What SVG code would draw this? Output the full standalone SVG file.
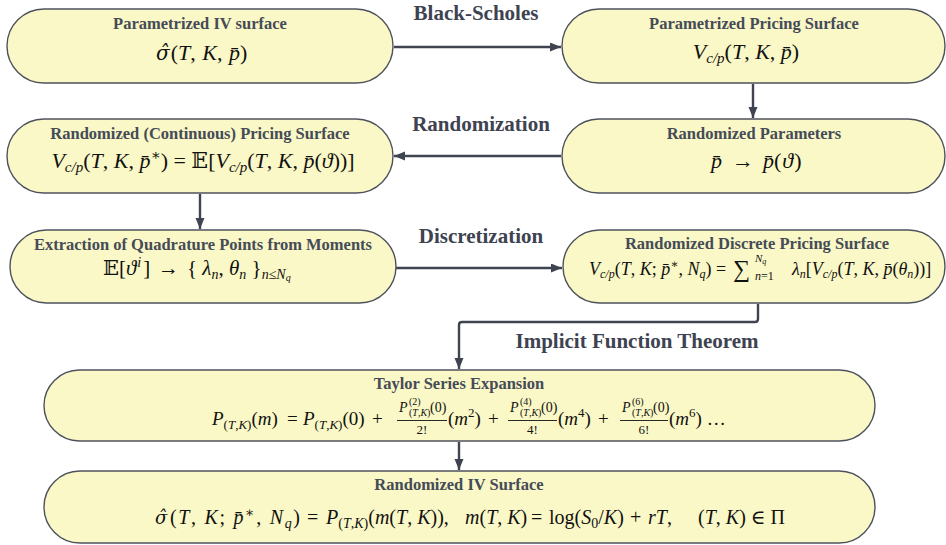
<svg xmlns="http://www.w3.org/2000/svg" width="946" height="545" viewBox="0 0 946 545">
<style>
.node{fill:#faf8c6;stroke:#4d525c;stroke-width:1.4}
.t{font-family:"Liberation Serif","DejaVu Serif",serif;font-weight:bold;font-size:16.5px;fill:#454b57;text-anchor:middle}
.lbl{font-family:"Liberation Serif","DejaVu Serif",serif;font-weight:bold;font-size:21px;fill:#3d4350;text-anchor:middle}
.m{font-family:"Liberation Serif","DejaVu Serif","DejaVu Sans",serif;fill:#111}
.dv{font-family:"DejaVu Serif",serif}
.c{text-anchor:middle}
.i{font-style:italic}
.edge{fill:none;stroke:#3f4450;stroke-width:2.4}
.bar{stroke:#111;stroke-width:0.9}
</style>
<defs>
<marker id="ah" markerUnits="userSpaceOnUse" markerWidth="12" markerHeight="10" refX="11" refY="4.5" orient="auto">
<path d="M0,0 L11,4.5 L0,9 z" fill="#3f4450"/>
</marker>
</defs>
<rect width="946" height="545" fill="#ffffff"/>

<g id="connectors">
<path class="edge" d="M394,47 L561,47" marker-end="url(#ah)"/>
<path class="edge" d="M753,84 L753,118" marker-end="url(#ah)"/>
<path class="edge" d="M561,156 L394,156" marker-end="url(#ah)"/>
<path class="edge" d="M200,194 L200,229" marker-end="url(#ah)"/>
<path class="edge" d="M396,268 L562,268" marker-end="url(#ah)"/>
<path class="edge" d="M758,304 L758,319 Q758,322 755,322 L462,322 Q459,322 459,325 L459,369" marker-end="url(#ah)"/>
<path class="edge" d="M459,442 L459,470" marker-end="url(#ah)"/>
<text class="lbl" x="476" y="20">Black-Scholes</text>
<text class="lbl" x="481" y="131">Randomization</text>
<text class="lbl" x="481" y="243">Discretization</text>
<text class="lbl" x="637" y="348">Implicit Function Theorem</text>
</g>

<g id="n1">
<rect class="node" x="7" y="9" width="386" height="74" rx="37"/>
<text class="t" x="200" y="29">Parametrized IV surface</text>
<text class="m" x="156" y="60" font-size="22"><tspan class="i dv" font-size="20">σ̂</tspan><tspan dx="1">(</tspan><tspan class="i">T</tspan>, <tspan class="i" dx="1">K</tspan>, <tspan class="i" dx="1">p̄</tspan>)</text>
</g>

<g id="n2">
<rect class="node" x="562" y="9" width="383" height="74" rx="37"/>
<text class="t" x="754" y="29">Parametrized Pricing Surface</text>
<text class="m c" x="746" y="59" font-size="22"><tspan class="i">V</tspan><tspan class="i" font-size="15" dy="4">c/p</tspan><tspan dy="-4">(</tspan><tspan class="i">T</tspan>, <tspan class="i">K</tspan>, <tspan class="i">p̄</tspan>)</text>
</g>

<g id="n3">
<rect class="node" x="7" y="119" width="386" height="74" rx="37"/>
<text class="t" x="200" y="139">Randomized (Continuous) Pricing Surface</text>
<text class="m c" x="203" y="168" font-size="22"><tspan class="i">V</tspan><tspan class="i" font-size="15" dy="4">c/p</tspan><tspan dy="-4">(</tspan><tspan class="i">T</tspan>, <tspan class="i">K</tspan>, <tspan class="i">p̄</tspan><tspan font-size="15" dy="-8">∗</tspan><tspan dy="8">) = 𝔼[</tspan><tspan class="i">V</tspan><tspan class="i" font-size="15" dy="4">c/p</tspan><tspan dy="-4">(</tspan><tspan class="i">T</tspan>, <tspan class="i">K</tspan>, <tspan class="i">p̄</tspan>(<tspan class="i">ϑ</tspan>))]</text>
</g>

<g id="n4">
<rect class="node" x="562" y="119" width="383" height="74" rx="37"/>
<text class="t" x="754" y="139">Randomized Parameters</text>
<text class="m i" x="711" y="168" font-size="22">p̄</text>
<text class="m" x="732" y="168" font-size="22">→</text>
<text class="m" x="763" y="168" font-size="22"><tspan class="i">p̄</tspan>(<tspan class="i" dx="1">ϑ</tspan><tspan dx="1">)</tspan></text>
</g>

<g id="n5">
<rect class="node" x="10" y="230" width="386" height="73" rx="36.5"/>
<text class="t" x="203" y="250">Extraction of Quadrature Points from Moments</text>
<text class="m" x="103" y="275" font-size="21">𝔼[<tspan class="i">ϑ</tspan><tspan class="i" font-size="14" dy="-8" dx="1">i</tspan><tspan dy="8" dx="2">]</tspan></text>
<text class="m" x="158" y="275" font-size="21">→</text>
<text class="m" x="187" y="275" font-size="21">{ <tspan class="i">λ</tspan><tspan class="i" font-size="14" dy="4">n</tspan><tspan dy="-4">, </tspan><tspan class="i">θ</tspan><tspan class="i" font-size="14" dy="4">n</tspan><tspan dy="-4"> }</tspan><tspan class="i" font-size="14" dy="4">n</tspan><tspan font-size="14">≤</tspan><tspan class="i" font-size="14">N</tspan><tspan class="i" font-size="10" dy="2">q</tspan></text>
</g>

<g id="n6">
<rect class="node" x="563" y="230" width="382" height="73" rx="36.5"/>
<text class="t" x="757" y="249">Randomized Discrete Pricing Surface</text>
<text class="m" x="589" y="275" font-size="18"><tspan class="i">V</tspan><tspan class="i" font-size="12" dy="3">c/p</tspan><tspan dy="-3">(</tspan><tspan class="i">T</tspan>, <tspan class="i">K</tspan>; <tspan class="i">p̄</tspan><tspan font-size="12" dy="-7">∗</tspan><tspan dy="7">, </tspan><tspan class="i">N</tspan><tspan class="i" font-size="12" dy="3">q</tspan><tspan dy="-3">) =</tspan></text>
<text class="m" x="733" y="277" font-size="24">∑</text>
<text class="m" x="755" y="262" font-size="11"><tspan class="i">N</tspan><tspan class="i" font-size="8" dy="2">q</tspan></text>
<text class="m" x="755" y="280" font-size="12"><tspan class="i">n</tspan>=1</text>
<text class="m" x="792" y="275" font-size="18"><tspan class="i">λ</tspan><tspan class="i" font-size="12" dy="3">n</tspan><tspan dy="-3">[</tspan><tspan class="i">V</tspan><tspan class="i" font-size="12" dy="3">c/p</tspan><tspan dy="-3">(</tspan><tspan class="i">T</tspan>, <tspan class="i">K</tspan>, <tspan class="i">p̄</tspan>(<tspan class="i">θ</tspan><tspan class="i" font-size="12" dy="3">n</tspan><tspan dy="-3">))]</tspan></text>
</g>

<g id="n7">
<rect class="node" x="44" y="370" width="831" height="71" rx="35.5"/>
<text class="t" x="459" y="389">Taylor Series Expansion</text>
<text class="m" x="212" y="425" font-size="19"><tspan class="i">P</tspan><tspan font-size="13" dy="4">(<tspan class="i">T</tspan>,<tspan class="i">K</tspan>)</tspan><tspan dy="-4">(</tspan><tspan class="i">m</tspan>)</text>
<text class="m" x="287" y="425" font-size="19">=</text>
<text class="m" x="303" y="425" font-size="19"><tspan class="i">P</tspan><tspan font-size="13" dy="4">(<tspan class="i">T</tspan>,<tspan class="i">K</tspan>)</tspan><tspan dy="-4">(0)</tspan></text>
<text class="m" x="372" y="425" font-size="19">+</text>
<text class="m i" x="399" y="412" font-size="14">P</text>
<text class="m" x="409" y="405" font-size="10">(2)</text>
<text class="m" x="409" y="416" font-size="10">(<tspan class="i">T</tspan>,<tspan class="i">K</tspan>)</text>
<text class="m" x="430" y="412" font-size="14">(0)</text>
<line class="bar" x1="397" y1="420.5" x2="447" y2="420.5"/>
<text class="m c" x="422" y="434" font-size="13">2!</text>
<text class="m" x="448" y="425" font-size="19">(<tspan class="i">m</tspan><tspan font-size="13" dy="-8">2</tspan><tspan dy="8">)</tspan></text>
<text class="m" x="488" y="425" font-size="19">+</text>
<text class="m i" x="510" y="412" font-size="14">P</text>
<text class="m" x="520" y="405" font-size="10">(4)</text>
<text class="m" x="520" y="416" font-size="10">(<tspan class="i">T</tspan>,<tspan class="i">K</tspan>)</text>
<text class="m" x="541" y="412" font-size="14">(0)</text>
<line class="bar" x1="508" y1="420.5" x2="557" y2="420.5"/>
<text class="m c" x="532.5" y="434" font-size="13">4!</text>
<text class="m" x="558" y="425" font-size="19">(<tspan class="i">m</tspan><tspan font-size="13" dy="-8">4</tspan><tspan dy="8">)</tspan></text>
<text class="m" x="598" y="425" font-size="19">+</text>
<text class="m i" x="622" y="412" font-size="14">P</text>
<text class="m" x="632" y="405" font-size="10">(6)</text>
<text class="m" x="632" y="416" font-size="10">(<tspan class="i">T</tspan>,<tspan class="i">K</tspan>)</text>
<text class="m" x="653" y="412" font-size="14">(0)</text>
<line class="bar" x1="620" y1="420.5" x2="668" y2="420.5"/>
<text class="m c" x="644" y="434" font-size="13">6!</text>
<text class="m" x="669" y="425" font-size="19">(<tspan class="i">m</tspan><tspan font-size="13" dy="-8">6</tspan><tspan dy="8">) …</tspan></text>
</g>

<g id="n8">
<rect class="node" x="44" y="471" width="831" height="72" rx="36"/>
<text class="t" x="459" y="490">Randomized IV Surface</text>
<text class="m" x="155" y="524" font-size="20" textLength="145" lengthAdjust="spacing"><tspan class="i dv" font-size="18">σ̂</tspan><tspan dx="1">(</tspan><tspan class="i">T</tspan>, <tspan class="i">K</tspan>; <tspan class="i">p̄</tspan><tspan font-size="14" dy="-7">∗</tspan><tspan dy="7">, </tspan><tspan class="i">N</tspan><tspan class="i" font-size="14" dy="4">q</tspan><tspan dy="-4">)</tspan></text>
<text class="m" x="307" y="524" font-size="20">=</text>
<text class="m" x="326" y="524" font-size="20"><tspan class="i">P</tspan><tspan font-size="14" dy="4">(<tspan class="i">T</tspan>,<tspan class="i">K</tspan>)</tspan><tspan dy="-4">(</tspan><tspan class="i">m</tspan>(<tspan class="i">T</tspan>, <tspan class="i">K</tspan>)),</text>
<text class="m" x="465" y="524" font-size="20"><tspan class="i">m</tspan>(<tspan class="i">T</tspan>, <tspan class="i">K</tspan>)</text>
<text class="m" x="531" y="524" font-size="20">=</text>
<text class="m" x="549" y="524" font-size="20">log(<tspan class="i">S</tspan><tspan font-size="14" dy="4">0</tspan><tspan dy="-4">/</tspan><tspan class="i">K</tspan>)</text>
<text class="m" x="630" y="524" font-size="20">+</text>
<text class="m" x="648" y="524" font-size="20"><tspan class="i">rT</tspan>,</text>
<text class="m" x="698" y="524" font-size="20">(<tspan class="i">T</tspan>, <tspan class="i">K</tspan>) ∈ Π</text>
</g>
</svg>
